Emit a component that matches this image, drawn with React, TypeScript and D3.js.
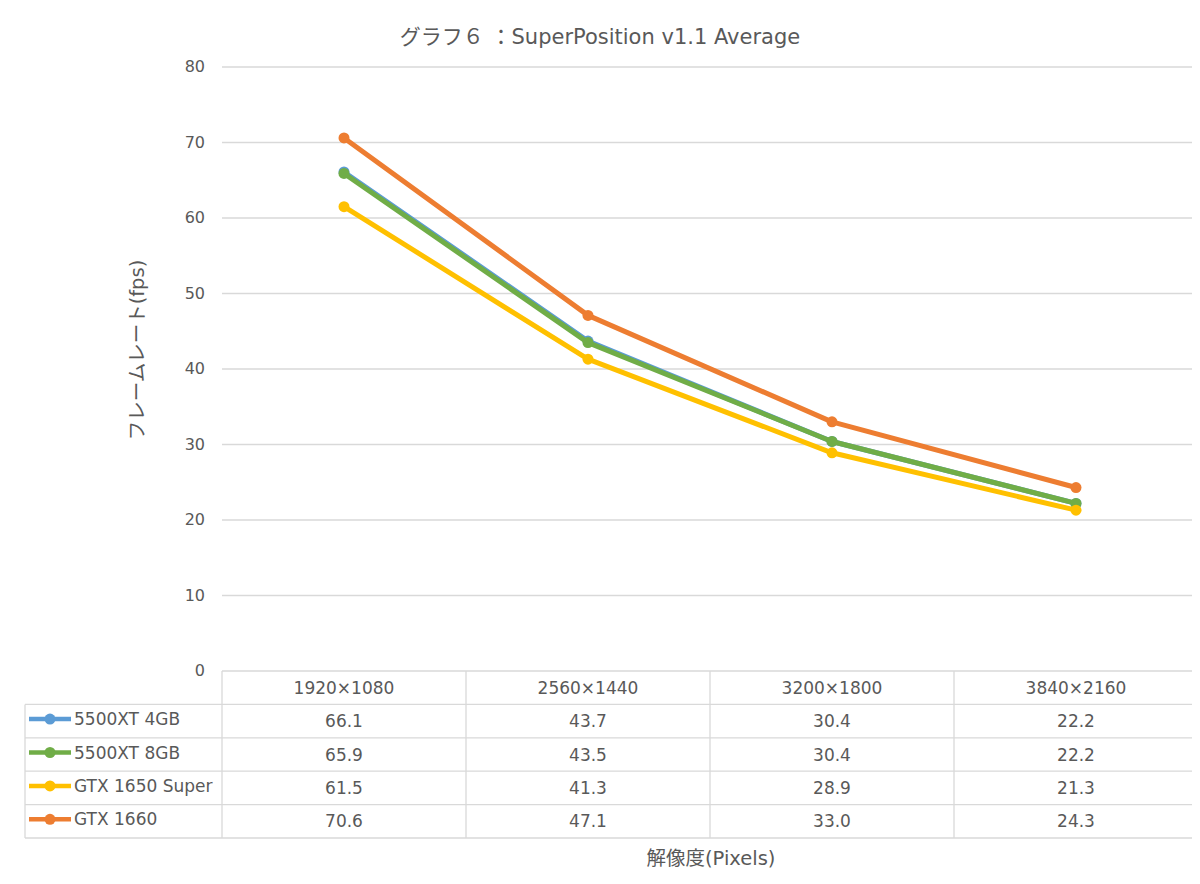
import React from "react";
import * as d3 from "d3";

const categories = ["1920×1080", "2560×1440", "3200×1800", "3840×2160"];
const seriesNames = ["5500XT 4GB", "5500XT 8GB", "GTX 1650 Super", "GTX 1660"];
const s5500xt4 = [66.1, 43.7, 30.4, 22.2];
const s5500xt8 = [65.9, 43.5, 30.4, 22.2];
const sGtx1650s = [61.5, 41.3, 28.9, 21.3];
const sGtx1660 = [70.6, 47.1, 33.0, 24.3];
const seriesColors = ["#5B9BD5", "#70AD47", "#FFC000", "#ED7D31"];
const yTicks = [0, 10, 20, 30, 40, 50, 60, 70, 80];
const title = "グラフ６ ：SuperPosition v1.1 Average";
const yTitle = "フレームレート(fps)";
const xTitle = "解像度(Pixels)";

const W = 1200, H = 884;
const plotL = 222, plotR = 1198, plotT = 67, plotB = 671;
const rowH = 33.4;
const tableL = 25;
const FONT = "'DejaVu Sans', 'Noto Sans CJK JP', sans-serif";
const TXT = "#595959";

export default function App() {
  const allSeries = [s5500xt4, s5500xt8, sGtx1650s, sGtx1660];
  const x = d3.scaleBand<string>().domain(categories).range([plotL, plotR]);
  const y = d3.scaleLinear().domain([0, 80]).range([plotB, plotT]);
  const line = d3
    .line<number>()
    .x((_, i) => (x(categories[i]) as number) + x.bandwidth() / 2)
    .y((d) => y(d));
  const colBounds = [plotL, ...categories.map((c) => (x(c) as number) + x.bandwidth())];
  const tableB = plotB + rowH * (seriesNames.length + 1);

  return (
    <div style={{ margin: -8 }}>
      <svg width={W} height={H} style={{ display: "block", fontFamily: FONT }}>
        <rect x={0} y={0} width={W} height={H} fill="#fff" />
        <rect x={1} y={1} width={W - 3} height={H - 3} fill="none" stroke="#d9d9d9" strokeWidth={1.5} />
        <text x={600} y={44} textAnchor="middle" fontSize={21} fill={TXT}>
          {title}
        </text>
        {yTicks.map((t) => (
          <g key={t}>
            {t > 0 && (
              <line x1={plotL} x2={plotR} y1={y(t)} y2={y(t)} stroke="#d9d9d9" strokeWidth={1.3} />
            )}
            <text x={205} y={y(t) + 5} textAnchor="end" fontSize={16} fill={TXT}>
              {t}
            </text>
          </g>
        ))}
        <text
          transform={`translate(144,${350}) rotate(-90)`}
          textAnchor="middle"
          fontSize={19.5}
          fill={TXT}
        >
          {yTitle}
        </text>
        {/* table */}
        <g stroke="#d9d9d9" strokeWidth={1.3}>
          <line x1={plotL} x2={plotR} y1={plotB} y2={plotB} />
          {seriesNames.map((_, i) => (
            <line key={i} x1={tableL} x2={plotR} y1={plotB + rowH * (i + 1)} y2={plotB + rowH * (i + 1)} />
          ))}
          <line x1={tableL} x2={plotR} y1={tableB} y2={tableB} />
          <line x1={tableL} x2={tableL} y1={plotB + rowH} y2={tableB} />
          {colBounds.map((cx, i) => (
            <line key={i} x1={cx} x2={cx} y1={plotB} y2={tableB} />
          ))}
        </g>
        {categories.map((c) => (
          <text
            key={c}
            x={(x(c) as number) + x.bandwidth() / 2}
            y={plotB + rowH / 2 + 6}
            textAnchor="middle"
            fontSize={17}
            fill={TXT}
          >
            {c}
          </text>
        ))}
        {seriesNames.map((name, si) => {
          const ry = plotB + rowH * (si + 1) + rowH / 2;
          return (
            <g key={name}>
              <line x1={29} x2={71} y1={ry - 2} y2={ry - 2} stroke={seriesColors[si]} strokeWidth={4.5} />
              <circle cx={50} cy={ry - 2} r={5.5} fill={seriesColors[si]} />
              <text x={74} y={ry + 4} fontSize={17} fill={TXT}>
                {name}
              </text>
              {allSeries[si].map((v, ci) => (
                <text
                  key={ci}
                  x={(x(categories[ci]) as number) + x.bandwidth() / 2}
                  y={ry + 6}
                  textAnchor="middle"
                  fontSize={17}
                  fill={TXT}
                >
                  {v.toFixed(1)}
                </text>
              ))}
            </g>
          );
        })}
        <text x={711} y={865} textAnchor="middle" fontSize={19.5} fill={TXT}>
          {xTitle}
        </text>
        {/* lines */}
        {allSeries.map((s, si) => (
          <g key={si}>
            <path
              d={line(s) as string}
              fill="none"
              stroke={seriesColors[si]}
              strokeWidth={5}
              strokeLinejoin="round"
            />
            {s.map((v, ci) => (
              <circle
                key={ci}
                cx={(x(categories[ci]) as number) + x.bandwidth() / 2}
                cy={y(v)}
                r={5.5}
                fill={seriesColors[si]}
              />
            ))}
          </g>
        ))}
      </svg>
    </div>
  );
}
